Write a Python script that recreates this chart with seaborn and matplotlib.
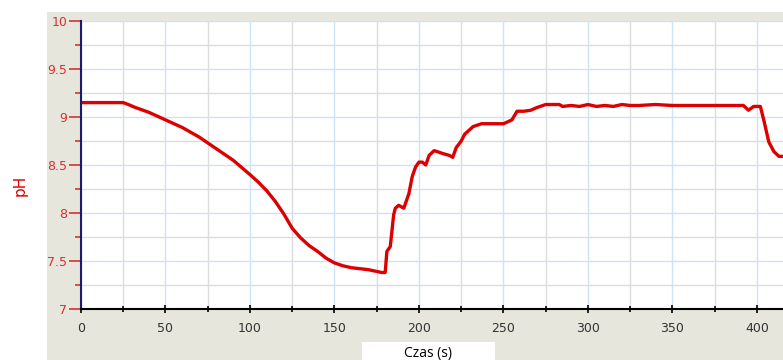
import matplotlib
matplotlib.use("Agg")
import matplotlib.pyplot as plt
import matplotlib.patches as mpatches
from matplotlib.ticker import MultipleLocator
import seaborn as sns
import pandas as pd

# czas (s) i pH
czas = [0, 10, 20, 25, 28, 32, 40, 50, 60, 70, 80, 90, 100, 105, 110, 115, 120, 125,
        130, 135, 140, 145, 150, 155, 160, 170, 178, 180, 181, 183, 185, 186, 188,
        191, 194, 196, 198, 200, 202, 204, 206, 209, 214, 218, 220, 222, 225, 227,
        232, 237, 245, 250, 255, 258, 262, 266, 270, 275, 283, 285, 290, 295, 300,
        305, 310, 315, 320, 325, 330, 340, 350, 360, 370, 380, 392, 395, 398, 402,
        404, 407, 410, 413, 415]
ph = [9.15, 9.15, 9.15, 9.15, 9.13, 9.10, 9.05, 8.97, 8.89, 8.79, 8.67, 8.55, 8.40,
      8.32, 8.23, 8.12, 7.99, 7.84, 7.74, 7.66, 7.60, 7.53, 7.48, 7.45, 7.43, 7.41,
      7.38, 7.38, 7.60, 7.65, 7.98, 8.05, 8.08, 8.05, 8.20, 8.38, 8.48, 8.53, 8.53,
      8.50, 8.60, 8.65, 8.62, 8.60, 8.58, 8.68, 8.75, 8.82, 8.90, 8.93, 8.93, 8.93,
      8.97, 9.06, 9.06, 9.07, 9.10, 9.13, 9.13, 9.11, 9.12, 9.11, 9.13, 9.11, 9.12,
      9.11, 9.13, 9.12, 9.12, 9.13, 9.12, 9.12, 9.12, 9.12, 9.12, 9.07, 9.11, 9.11,
      8.97, 8.74, 8.64, 8.59, 8.59]

df = pd.DataFrame({"czas": czas, "ph": ph})

sns.set_theme(style="white")
plt.rcParams['font.family'] = ['DejaVu Sans']

fig = plt.figure(figsize=(7.83, 3.6), dpi=100)
fig.patch.set_facecolor("white")

# szare tlo panelu
fig.patches.append(mpatches.Rectangle((47 / 783, 0), 736 / 783, 348 / 360,
                                      transform=fig.transFigure, facecolor="#e6e6dc",
                                      edgecolor="none", zorder=-5))

ax = fig.add_axes([81 / 783, 1 - 309 / 360, 1 - 81 / 783, 288 / 360])
ax.set_zorder(1)
ax.set_facecolor("white")

sns.lineplot(data=df, x="czas", y="ph", ax=ax, color="#dd0000", linewidth=2.4)

ax.set_xlim(0, 415.4)
ax.set_ylim(7, 10)
ax.xaxis.set_major_locator(MultipleLocator(50))
ax.xaxis.set_minor_locator(MultipleLocator(25))
ax.yaxis.set_major_locator(MultipleLocator(0.5))
ax.yaxis.set_minor_locator(MultipleLocator(0.25))
ax.set_yticks([7, 7.5, 8, 8.5, 9, 9.5, 10])
ax.set_yticklabels(["7", "7.5", "8", "8.5", "9", "9.5", "10"])

ax.grid(which="major", color="#cce4f8", linewidth=1)
ax.grid(which="minor", color="#dcdcdc", linewidth=1)
ax.set_axisbelow(True)

for s in ["top", "right"]:
    ax.spines[s].set_visible(False)
ax.spines["left"].set_color("#1a1a70")
ax.spines["left"].set_linewidth(1.5)
ax.spines["bottom"].set_color("black")
ax.spines["bottom"].set_linewidth(1.5)

ax.tick_params(axis="y", which="major", length=9, width=1.2, colors="#d83030",
               labelsize=9, pad=1, left=True)
ax.tick_params(axis="y", which="minor", length=4, width=1.2, color="#d83030", left=True)
ax.tick_params(axis="x", which="major", length=6, width=1.2, colors="black",
               labelsize=9, pad=6, bottom=True, direction="inout")
ax.tick_params(axis="x", which="minor", length=4, width=1.2, color="black",
               bottom=True, direction="inout")
for lab in ax.get_xticklabels():
    lab.set_color("#333333")

ax.set_xlabel("")
ax.set_ylabel("")

fig.text(20 / 783, 1 - 185 / 360, "pH", rotation=90, color="#dd0000",
         fontsize=11, ha="center", va="center")

fig.patches.append(mpatches.Rectangle((362 / 783, 0), 133 / 783, 18 / 360,
                                      transform=fig.transFigure, facecolor="white",
                                      edgecolor="none", zorder=-4))
fig.text(428 / 783, 1 - 353 / 360, "Czas (s)", color="black", fontsize=10,
         family="Open Sans", ha="center", va="center", zorder=2)

fig.savefig("out.png", dpi=100)
